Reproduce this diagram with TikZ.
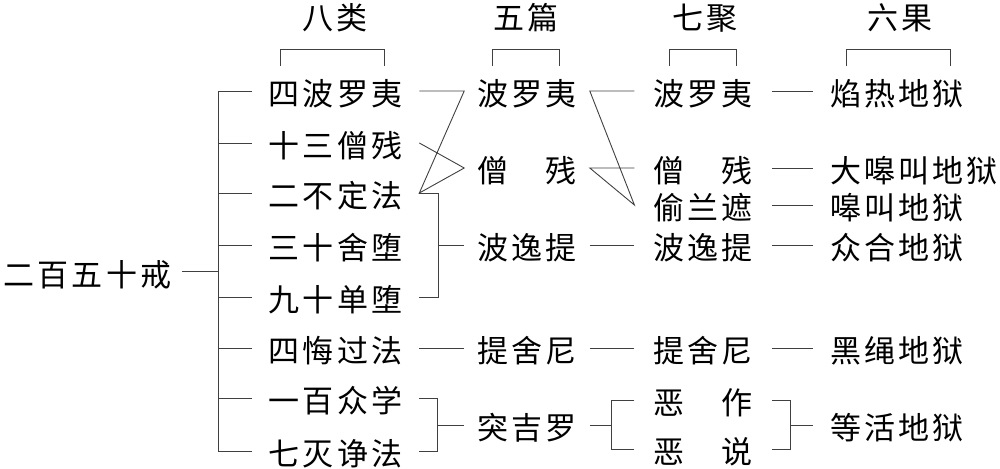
\documentclass[tikz,border=0pt]{standalone}
\usepackage{fontspec}
\newfontfamily\cjk[LetterSpace=10]{Noto Sans CJK SC}
\begin{document}
\begin{tikzpicture}[x=1pt,y=-1pt,
  every node/.style={font=\cjk\fontsize{31pt}{31pt}\selectfont, inner ysep=0pt, text height=29.5pt, text depth=0pt},
  ln/.style={line width=0.9pt, draw=black!75},
  c0/.style={inner xsep=11pt},
  c1/.style={inner xsep=17pt},
  c2/.style={inner xsep=13pt},
  c3/.style={inner xsep=19pt},
  c4/.style={inner xsep=17pt, anchor=west},
  hd/.style={inner xsep=0pt},
]
\useasboundingbox (0,0) rectangle (1000,468);
% headers
\node[hd] (h1) at (334.9,14.5) {八类};
\node[hd] (h2) at (526,14.5) {五篇};
\node[hd] (h3) at (705,14.5) {七聚};
\node[hd] (h4) at (900,14.5) {六果};
\draw[ln] (280.7,66) |- (384,49) -- (384,66);
\draw[ln] (492.7,66) |- (559.3,49) -- (559.3,66);
\draw[ln] (669,66) |- (736,49) -- (736,66);
\draw[ln] (846.7,66) |- (950,49) -- (950,66);
% root
\node[c0] (r) at (87.5,271.7) {二百五十戒};
% column 1
\node[c1] (a1) at (335.5,91) {四波罗夷};
\node[c1] (a2) at (335.5,143) {十三僧残};
\node[c1] (a3) at (335.5,193) {二不定法};
\node[c1] (a4) at (335.5,245) {三十舍堕};
\node[c1] (a5) at (335.5,297) {九十单堕};
\node[c1] (a6) at (335.5,348) {四悔过法};
\node[c1] (a7) at (335.5,398) {一百众学};
\node[c1] (a8) at (335.5,451) {七灭诤法};
% column 2
\node[c2] (b1) at (527,91) {波罗夷};
\node[c2] (b2) at (527,168) {僧　残};
\node[c2] (b3) at (527,245) {波逸提};
\node[c2] (b4) at (527,348) {提舍尼};
\node[c2] (b5) at (527,425) {突吉罗};
% column 3
\node[c3] (c1) at (703.2,91) {波罗夷};
\node[c3] (c2) at (703.2,168) {僧　残};
\node[c3] (c3) at (703.2,205) {偷兰遮};
\node[c3] (c4) at (703.2,245) {波逸提};
\node[c3] (c5) at (703.2,348) {提舍尼};
\node[c3] (c6) at (703.2,400) {恶　作};
\node[c3] (c7) at (703.2,449) {恶　说};
% column 4
\node[c4] (d1) at (813,91) {焰热地狱};
\node[c4] (d2) at (813,168) {大嗥叫地狱};
\node[c4] (d3) at (813,205) {嗥叫地狱};
\node[c4] (d4) at (813,245) {众合地狱};
\node[c4] (d5) at (813,348) {黑绳地狱};
\node[c4] (d6) at (813,425) {等活地狱};
% root -> column 1
\coordinate (t) at ([xshift=-33pt]a1.west);
\draw[ln] (r.east) -- (t |- r.east);
\draw[ln] (a1.west) -- (t) -- (t |- a8.west) -- (a8.west);
\foreach \i in {2,...,7} \draw[ln] (a\i.west) -- (t |- a\i.west);
% column 1 -> column 2
\draw[ln] (a1.east) -- (b1.west) -- (a3.east) -- (b2.west) -- (a2.east);
\draw[ln] (a3.east) -- ++(19,0) coordinate (k1) |- (a5.east);
\draw[ln] (k1 |- b3.west) -- (b3.west);
\draw[ln] (a6.east) -- (b4.west);
\draw[ln] (a7.east) -- ++(18,0) coordinate (k2) |- (a8.east);
\draw[ln] (k2 |- b5.west) -- (b5.west);
% column 2 -> column 3
\draw[ln] (c1.west) -- (b1.east) -- (c3.west) -- (b2.east) -- (c2.west);
\draw[ln] (b3.east) -- (c4.west);
\draw[ln] (b4.east) -- (c5.west);
\coordinate (k3) at ([xshift=22pt]b5.east);
\draw[ln] (b5.east) -- (k3);
\draw[ln] (c6.west) -- (k3 |- c6.west) -- (k3 |- c7.west) -- (c7.west);
% column 3 -> column 4
\draw[ln] (c1.east) -- (d1.west);
\draw[ln] (c2.east) -- (d2.west);
\draw[ln] (c3.east) -- (d3.west);
\draw[ln] (c4.east) -- (d4.west);
\draw[ln] (c5.east) -- (d5.west);
\draw[ln] (c6.east) -- ++(18,0) coordinate (k4) |- (c7.east);
\draw[ln] (k4 |- d6.west) -- (d6.west);
\end{tikzpicture}
\end{document}
